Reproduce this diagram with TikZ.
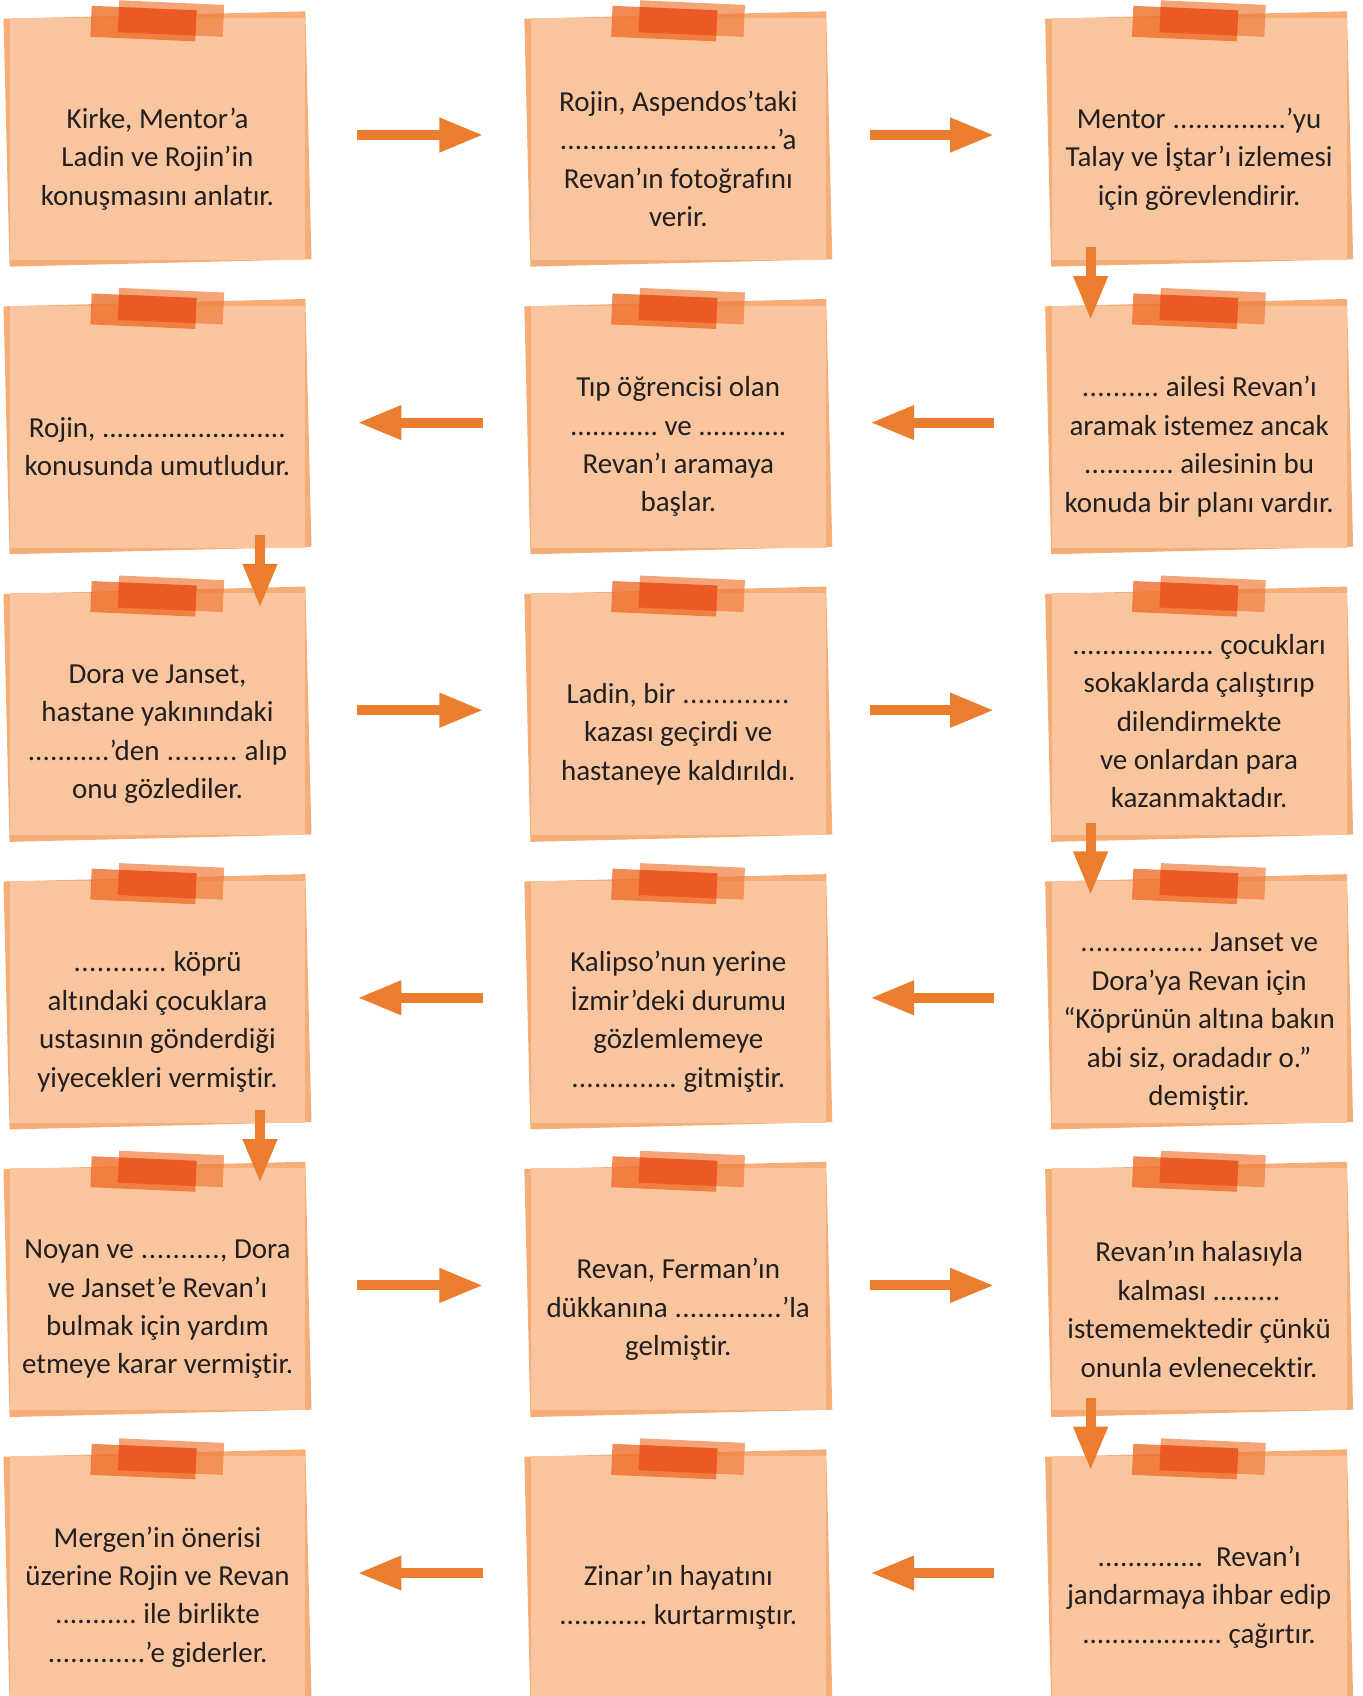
\documentclass[tikz,border=0pt]{standalone}
\usepackage{fontspec}
\setmainfont{Carlito}[Ligatures=NoCommon]
\usepackage{xcolor}
\usepackage{tikz}
\usetikzlibrary{arrows.meta,positioning,backgrounds}

\definecolor{notefill}{HTML}{F9C59E}
\definecolor{noteback}{HTML}{F5AE78}
\definecolor{tapeone}{HTML}{EF6E28}
\definecolor{tapetwo}{HTML}{F07D3C}
\definecolor{tapemid}{HTML}{EB5A25}
\definecolor{arrowc}{HTML}{EB7D2F}
\definecolor{inkc}{HTML}{231F20}

\newcommand{\gap}[1]{\makebox[#1]{\xleaders\hbox{.}\hfill}}

\begin{document}
\begin{tikzpicture}[x=0.5pt,y=0.5pt,
    note/.style={fill=notefill, minimum width=147.5pt, minimum height=121pt, inner sep=0pt},
    txt/.style={text=inkc, align=center, font=\fontsize{14.5pt}{19.2pt}\selectfont},
    flow/.style={draw=arrowc, line width=5pt, -{Triangle[width=16pt,length=22pt]}}]
        \useasboundingbox (0,0) rectangle (1362,-1696);

        % the notes, row by row
        \node[note] (n11) at (157.5,-139) {};
        \node[note, right = 112.5pt of n11] (n12) {};
        \node[note, right = 112.5pt of n12] (n13) {};
        \node[note, below = 22.4pt of n11] (n21) {};
        \node[note, right = 112.5pt of n21] (n22) {};
        \node[note, right = 112.5pt of n22] (n23) {};
        \node[note, below = 22.4pt of n21] (n31) {};
        \node[note, right = 112.5pt of n31] (n32) {};
        \node[note, right = 112.5pt of n32] (n33) {};
        \node[note, below = 22.4pt of n31] (n41) {};
        \node[note, right = 112.5pt of n41] (n42) {};
        \node[note, right = 112.5pt of n42] (n43) {};
        \node[note, below = 22.4pt of n41] (n51) {};
        \node[note, right = 112.5pt of n51] (n52) {};
        \node[note, right = 112.5pt of n52] (n53) {};
        \node[note, below = 22.4pt of n51] (n61) {};
        \node[note, right = 112.5pt of n61] (n62) {};
        \node[note, right = 112.5pt of n62] (n63) {};

        % sheet underneath and the two tapes
        \begin{scope}[on background layer]
        \foreach \n in {n11,n12,n13,n21,n22,n23,n31,n32,n33,n41,n42,n43,n51,n52,n53,n61,n62,n63}
            \fill[noteback, shift={(\n.center)}, rotate=1.4] (-151,-124) rectangle (151,124);
        \end{scope}
        \foreach \n in {n11,n12,n13,n21,n22,n23,n31,n32,n33,n41,n42,n43,n51,n52,n53,n61,n62,n63}{
            \begin{scope}[shift={(\n.north)}]
            \fill[tapeone, opacity=0.8, rotate around={-2.5:(-14,-6)}] (-66.5,-21.5) rectangle (38.5,9.5);
            \fill[tapetwo, opacity=0.7, rotate around={-2.5:(13.5,-1)}] (-39,-17) rectangle (66,15);
            \begin{scope}
            \clip[rotate around={-2.5:(-14,-6)}] (-66.5,-21.5) rectangle (38.5,9.5);
            \fill[tapemid, rotate around={-2.5:(13.5,-1)}] (-39,-17) rectangle (66,15);
            \end{scope}
            \end{scope}
        }

        % texts
        \node[txt] (t11) at ([yshift=-10pt]n11.center) {Kirke, Mentor’a\\Ladin ve Rojin’in\\konuşmasını anlatır.};
        \node[txt] (t12) at ([yshift=-10pt]n12.center) {Rojin, Aspendos’taki\\\gap{109pt}’a\\Revan’ın fotoğrafını\\verir.};
        \node[txt] (t13) at ([yshift=-10pt]n13.center) {Mentor \gap{57pt}’yu\\Talay ve İştar’ı izlemesi\\için görevlendirir.};
        \node[txt] (t21) at ([yshift=-10pt]n21.center) {Rojin, \gap{92pt}\\konusunda umutludur.};
        \node[txt] (t22) at ([yshift=-10pt]n22.center) {Tıp öğrencisi olan\\\gap{44pt} ve \gap{44pt}\\Revan’ı aramaya\\başlar.};
        \node[txt] (t23) at ([yshift=-10pt]n23.center) {\gap{39pt} ailesi Revan’ı\\aramak istemez ancak\\\gap{45pt} ailesinin bu\\konuda bir planı vardır.};
        \node[txt] (t31) at ([yshift=-10pt]n31.center) {Dora ve Janset,\\hastane yakınındaki\\\gap{41pt}’den \gap{36pt} alıp\\onu gözlediler.};
        \node[txt] (t32) at ([yshift=-10pt]n32.center) {Ladin, bir \gap{54pt}\\kazası geçirdi ve\\hastaneye kaldırıldı.};
        \node[txt] (t33) at ([yshift=-3.5pt]n33.center) {\gap{71pt} çocukları\\sokaklarda çalıştırıp\\dilendirmekte\\ve onlardan para\\kazanmaktadır.};
        \node[txt] (t41) at ([yshift=-10pt]n41.center) {\gap{47pt} köprü\\altındaki çocuklara\\ustasının gönderdiği\\yiyecekleri vermiştir.};
        \node[txt] (t42) at ([yshift=-10pt]n42.center) {Kalipso’nun yerine\\İzmir’deki durumu\\gözlemlemeye\\\gap{53pt} gitmiştir.};
        \node[txt] (t43) at ([yshift=-10pt]n43.center) {\gap{62pt} Janset ve\\Dora’ya Revan için\\“Köprünün altına bakın\\abi siz, oradadır o.”\\demiştir.};
        \node[txt] (t51) at ([yshift=-10pt]n51.center) {Noyan ve \gap{40pt}, Dora\\ve Janset’e Revan’ı\\bulmak için yardım\\etmeye karar vermiştir.};
        \node[txt] (t52) at ([yshift=-10pt]n52.center) {Revan, Ferman’ın\\dükkanına \gap{54pt}’la\\gelmiştir.};
        \node[txt] (t53) at ([yshift=-10pt]n53.center) {Revan’ın halasıyla\\kalması \gap{34pt}\\istememektedir çünkü\\onunla evlenecektir.};
        \node[txt] (t61) at ([yshift=-10pt]n61.center) {Mergen’in önerisi\\üzerine Rojin ve Revan\\\gap{41pt} ile birlikte\\\gap{49pt}’e giderler.};
        \node[txt] (t62) at ([yshift=-10pt]n62.center) {Zinar’ın hayatını\\\gap{44pt} kurtarmıştır.};
        \node[txt] (t63) at ([yshift=-10pt]n63.center) {\gap{53pt}~ Revan’ı\\jandarmaya ihbar edip\\\gap{70pt} çağırtır.};

        % arrows between the notes
        \draw[flow] ([shift={(52,4)}]n11.east) -- ([shift={(-47,4)}]n12.west);
        \draw[flow] ([shift={(44,4)}]n12.east) -- ([shift={(-57,4)}]n13.west);
        \draw[flow] ([shift={(-108.5,13)}]n13.south) -- ([shift={(-108.5,-15)}]n23.north);
        \draw[flow] ([shift={(-57,4)}]n23.west) -- ([shift={(44,4)}]n22.east);
        \draw[flow] ([shift={(-47,4)}]n22.west) -- ([shift={(52,4)}]n21.east);
        \draw[flow] ([shift={(102.5,13)}]n21.south) -- ([shift={(102.5,-15)}]n31.north);
        \draw[flow] ([shift={(52,4)}]n31.east) -- ([shift={(-47,4)}]n32.west);
        \draw[flow] ([shift={(44,4)}]n32.east) -- ([shift={(-57,4)}]n33.west);
        \draw[flow] ([shift={(-108.5,13)}]n33.south) -- ([shift={(-108.5,-15)}]n43.north);
        \draw[flow] ([shift={(-57,4)}]n43.west) -- ([shift={(44,4)}]n42.east);
        \draw[flow] ([shift={(-47,4)}]n42.west) -- ([shift={(52,4)}]n41.east);
        \draw[flow] ([shift={(102.5,13)}]n41.south) -- ([shift={(102.5,-15)}]n51.north);
        \draw[flow] ([shift={(52,4)}]n51.east) -- ([shift={(-47,4)}]n52.west);
        \draw[flow] ([shift={(44,4)}]n52.east) -- ([shift={(-57,4)}]n53.west);
        \draw[flow] ([shift={(-108.5,13)}]n53.south) -- ([shift={(-108.5,-15)}]n63.north);
        \draw[flow] ([shift={(-57,4)}]n63.west) -- ([shift={(44,4)}]n62.east);
        \draw[flow] ([shift={(-47,4)}]n62.west) -- ([shift={(52,4)}]n61.east);
\end{tikzpicture}
\end{document}
